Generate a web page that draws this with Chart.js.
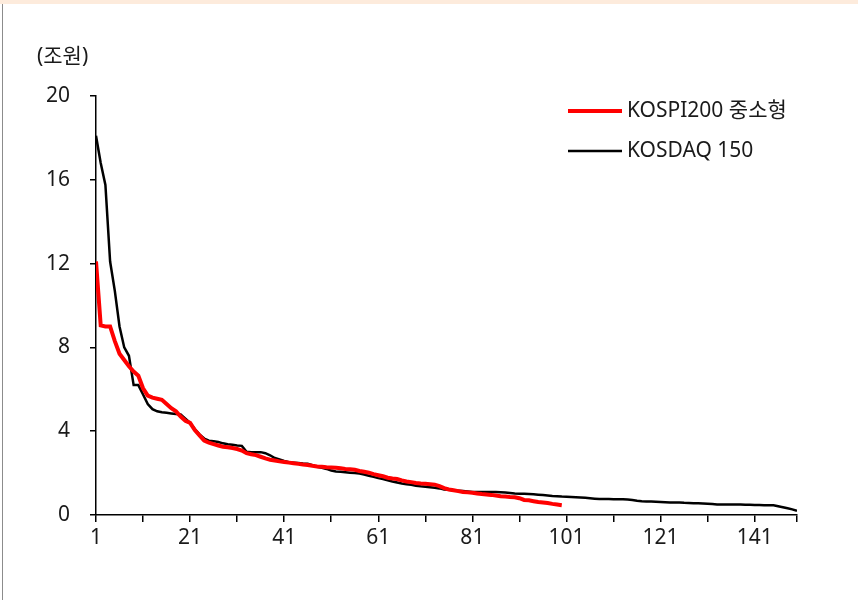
<!DOCTYPE html>
<html>
<head>
<meta charset="utf-8">
<script src="https://cdn.jsdelivr.net/npm/chart.js@4.4.1/dist/chart.umd.min.js"></script>
<style>
  html, body { margin: 0; padding: 0; background: #fff; }
  #wrap { position: relative; width: 858px; height: 600px; overflow: hidden; }
  #topband { position: absolute; left: 0; top: 0; width: 858px; height: 4px; background: #fdebdc; }
  #leftline { position: absolute; left: 2px; top: 4px; width: 1px; height: 596px; background: #8c8c8c; }
  canvas { position: absolute; left: 0; top: 0; }
</style>
</head>
<body>
<div id="wrap">
  <div id="topband"></div>
  <div id="leftline"></div>
  <canvas id="myChart" width="858" height="600"></canvas>
</div>
<script>
// Step 1: the data (시가총액 순위별, 단위 조원)
const unitLabel = '(조원)';
const seriesNames = ['KOSPI200 중소형', 'KOSDAQ 150'];

const kospiMidSmall = [
    12.1, 9.05, 9.0, 9.0, 8.3, 7.7, 7.4, 7.1, 6.85, 6.65,
    6.05, 5.7, 5.6, 5.55, 5.5, 5.3, 5.1, 4.95, 4.7, 4.5,
    4.4, 4.05, 3.8, 3.55, 3.45, 3.38, 3.32, 3.26, 3.23, 3.2,
    3.15, 3.08, 2.95, 2.9, 2.86, 2.78, 2.7, 2.64, 2.6, 2.56,
    2.53, 2.5, 2.47, 2.44, 2.41, 2.39, 2.35, 2.32, 2.3, 2.28,
    2.27, 2.25, 2.23, 2.2, 2.18, 2.16, 2.1, 2.06, 2.02, 1.95,
    1.9, 1.85, 1.78, 1.74, 1.72, 1.65, 1.6, 1.57, 1.53, 1.5,
    1.49, 1.47, 1.45, 1.38, 1.28, 1.22, 1.18, 1.14, 1.1, 1.08,
    1.06, 1.03, 1.0, 0.98, 0.96, 0.93, 0.9, 0.88, 0.86, 0.85,
    0.8, 0.72, 0.7, 0.66, 0.62, 0.6, 0.57, 0.53, 0.5, 0.47
];

const kosdaq150 = [
    18.1, 16.8, 15.75, 12.1, 10.7, 9.0, 8.0, 7.6, 6.2, 6.2,
    5.75, 5.3, 5.05, 4.95, 4.9, 4.88, 4.85, 4.82, 4.8, 4.6,
    4.4, 4.1, 3.85, 3.65, 3.55, 3.52, 3.48, 3.42, 3.38, 3.35,
    3.32, 3.3, 3.02, 3.0, 3.0, 3.0, 2.95, 2.85, 2.72, 2.65,
    2.58, 2.52, 2.5, 2.48, 2.46, 2.45, 2.38, 2.3, 2.25, 2.2,
    2.12, 2.08, 2.06, 2.04, 2.02, 2.0, 1.98, 1.93, 1.87, 1.82,
    1.76, 1.72, 1.66, 1.6, 1.55, 1.5, 1.47, 1.44, 1.4, 1.37,
    1.35, 1.33, 1.3, 1.27, 1.22, 1.2, 1.18, 1.16, 1.14, 1.12,
    1.1, 1.1, 1.1, 1.1, 1.1, 1.1, 1.09, 1.07, 1.05, 1.03,
    1.02, 1.01, 1.0, 0.99, 0.97, 0.95, 0.93, 0.91, 0.9, 0.88,
    0.87, 0.86, 0.85, 0.84, 0.82, 0.8, 0.78, 0.76, 0.76, 0.76,
    0.75, 0.75, 0.75, 0.74, 0.72, 0.68, 0.66, 0.65, 0.64, 0.63,
    0.62, 0.61, 0.6, 0.6, 0.6, 0.58, 0.57, 0.56, 0.56, 0.55,
    0.54, 0.52, 0.5, 0.5, 0.5, 0.5, 0.5, 0.5, 0.49, 0.49,
    0.48, 0.48, 0.47, 0.47, 0.46, 0.42, 0.37, 0.32, 0.27, 0.2
];

// tick marks on x axis every 10 ranks, labels every 20
const xTickValues = [1, 11, 21, 31, 41, 51, 61, 71, 81, 91, 101, 111, 121, 131, 141, 150];
const xTickLabels = ['1', '21', '41', '61', '81', '101', '121', '141'];
const yTickValues = [0, 4, 8, 12, 16, 20];

const FONT = '"Noto Sans", "Noto Sans CJK KR", sans-serif';
const TEXT_COLOR = '#1a1a1a';

// Step 2: build points (rank, value)
const toPoints = arr => arr.map((v, i) => ({ x: i + 1, y: v }));

// custom legend + unit label
const extras = {
    id: 'extras',
    afterDraw(chart) {
        const ctx = chart.ctx;
        ctx.save();
        ctx.font = '21px ' + FONT;
        ctx.fillStyle = TEXT_COLOR;
        ctx.textBaseline = 'middle';
        ctx.textAlign = 'left';
        ctx.fillText(unitLabel, 37, 57);

        const items = [
            { name: seriesNames[0], color: '#ff0000', width: 4, y: 111 },
            { name: seriesNames[1], color: '#000000', width: 2.5, y: 151 }
        ];
        items.forEach(it => {
            ctx.beginPath();
            ctx.strokeStyle = it.color;
            ctx.lineWidth = it.width;
            ctx.moveTo(568, it.y);
            ctx.lineTo(622, it.y);
            ctx.stroke();
            ctx.fillText(it.name, 627, it.y);
        });
        ctx.restore();
    }
};

const config = {
    type: 'line',
    data: {
        datasets: [
            {
                label: seriesNames[1],
                data: toPoints(kosdaq150),
                borderColor: '#000000',
                borderWidth: 2.5,
                pointRadius: 0,
                tension: 0,
                order: 2
            },
            {
                label: seriesNames[0],
                data: toPoints(kospiMidSmall),
                borderColor: '#ff0000',
                borderWidth: 4,
                pointRadius: 0,
                tension: 0,
                order: 1
            }
        ]
    },
    options: {
        responsive: false,
        animation: false,
        layout: { padding: { left: 0, top: 96, right: 61, bottom: 0 } },
        scales: {
            x: {
                type: 'linear',
                min: 1,
                max: 150,
                afterBuildTicks: s => { s.ticks = xTickValues.map(v => ({ value: v })); },
                afterFit: s => { s.height = 85; },
                border: { color: '#000', width: 1.5 },
                grid: { drawOnChartArea: false, color: '#000', lineWidth: 1.5, tickLength: 7 },
                ticks: {
                    autoSkip: false,
                    maxRotation: 0,
                    padding: 3,
                    color: TEXT_COLOR,
                    font: { family: FONT, size: 21 },
                    callback: v => xTickLabels.includes(String(v)) && v !== 150 ? String(v) : ''
                }
            },
            y: {
                min: 0,
                max: 20,
                afterBuildTicks: s => { s.ticks = yTickValues.map(v => ({ value: v })); },
                afterFit: s => { s.width = 96; },
                border: { color: '#000', width: 1.5 },
                grid: { drawOnChartArea: false, color: '#000', lineWidth: 1.5, tickLength: 6 },
                ticks: {
                    padding: 20,
                    color: TEXT_COLOR,
                    font: { family: FONT, size: 21 }
                }
            }
        },
        plugins: {
            legend: { display: false },
            tooltip: { enabled: false }
        }
    },
    plugins: [extras]
};

const ctx = document.getElementById('myChart').getContext('2d');
new Chart(ctx, config);
</script>
</body>
</html>
